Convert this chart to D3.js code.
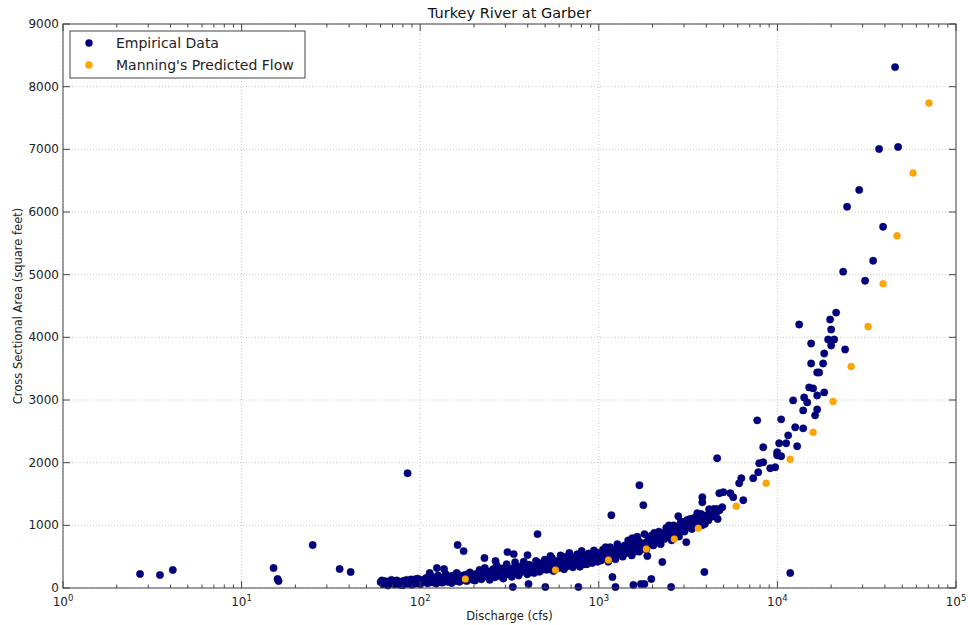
<!DOCTYPE html>
<html><head><meta charset="utf-8">
<script src="https://cdn.jsdelivr.net/npm/d3@7"></script>
<style>body{margin:0;background:#fff}svg{display:block}text{font-family:"DejaVu Sans",sans-serif}</style>
</head><body><svg id="c" width="968" height="625"></svg>
<script>
const title = "Turkey River at Garber";
const xLabel = "Discharge (cfs)";
const yLabel = "Cross Sectional Area (square feet)";
const seriesNames = ["Empirical Data", "Manning's Predicted Flow"];
const xTickExps = [0,1,2,3,4,5];
const yTicks = [0,1000,2000,3000,4000,5000,6000,7000,8000,9000];

// Empirical data [discharge, area]
const empiricalBand = [
[60,95],[62,60],[64,110],[66,40],[68,75],[70,90],[72,55],[74,120],[76,70],[78,100],[80,45],[82,85],[84,130],[86,65],[88,105],[90,50],[92,95],[94,140],[96,75],[98,115],
[100,60],[102,130],[105,95],[108,160],[110,75],[112,120],[115,180],[118,90],[120,140],[123,70],[126,200],[128,110],[130,160],[133,85],[136,130],[139,220],[142,100],[145,170],[148,135],[150,80],[153,195],[156,120],[160,240],[163,150],[166,100],[170,180],[174,130],[178,210],[182,110],[186,170],[190,250],[194,140],[198,200],
[203,120],[207,230],[211,170],[215,290],[220,140],[225,210],[230,320],[235,180],[240,260],[245,130],[250,220],[256,300],[262,170],[268,360],[274,240],[280,190],[286,310],[292,150],[298,270],[305,380],[312,220],[319,300],[326,180],[333,250],[340,410],[348,280],[356,200],[364,340],[372,260],[380,420],[389,300],[398,220],[407,370],[416,280],[425,340],[435,240],[445,430],[455,310],[465,260],[476,380],[487,330],[498,450],
[510,290],[522,400],[534,340],[546,480],[558,270],[571,370],[584,430],[597,320],[611,520],[625,390],[639,300],[654,460],[669,350],[684,560],[700,420],[716,330],[732,500],[749,380],[766,460],[784,340],[802,590],[820,430],[839,500],[858,380],[878,550],[898,450],[919,400],[940,600],[962,480],[984,420],
[1005,520],[1030,440],[1055,610],[1080,480],[1105,560],[1130,420],[1157,650],[1184,500],[1212,580],[1240,460],[1270,700],[1300,540],[1330,620],[1362,500],[1394,680],[1427,560],[1461,760],[1495,600],[1530,520],[1566,700],[1603,640],[1641,820],[1680,580],[1720,720],[1760,660],[1802,860],[1845,620],[1888,760],[1933,700],[1978,840],
[2020,680],[2070,820],[2120,740],[2170,900],[2220,700],[2275,860],[2330,780],[2385,960],[2440,820],[2500,900],[2560,760],[2620,1000],[2685,880],[2750,940],[2815,820],[2880,1060],[2950,960],[3020,900],[3095,1040],[3170,980],[3245,1100],[3320,940],[3400,1060],[3480,1000],[3565,1140],[3650,1040],[3740,1180],[3830,1100],[3920,1020],[4010,1160],[4110,1080],[4210,1220],[4310,1140],[4410,1260],[4520,1180],[4630,1100],[4740,1240],
[61,120],[65,85],[69,130],[73,95],[77,50],[81,115],[85,90],[89,135],[93,70],[97,150],
[101,100],[107,140],[113,90],[119,170],[125,120],[131,100],[137,170],[143,140],[149,190],[155,160],[161,110],[167,200],[173,150],[179,170],[185,220],[191,180],[197,130],
[205,180],[213,220],[222,260],[232,220],[242,200],[252,270],[259,230],[271,280],[283,250],[295,220],[308,310],[322,260],[337,330],[352,240],[368,300],[385,350],[402,300],[420,250],[440,330],[460,400],[481,290],[503,360],
[528,300],[552,420],[578,350],[604,400],[632,460],[660,380],[692,480],[724,410],[758,540],[793,470],[830,380],[868,480],[908,540],[950,460],[995,560],
[1042,500],[1092,650],[1143,540],[1198,480],[1255,620],[1315,580],[1378,550],[1444,640],[1512,680],[1584,580],[1660,760],[1740,620],[1823,720],[1910,800],[1999,760],
[2045,880],[2145,800],[2250,880],[2357,860],[2470,1000],[2590,880],[2718,980],[2850,900],[2985,1000],[3130,1080],[3280,1000],[3440,1120],[3610,1080],[3785,1000],[3970,1120],[4160,1160],[4360,1200],[4570,1260]
];
const empiricalHigh = [
[3130,1083],[3560,1194],[4490,1194],[4150,1258],[4910,1290],[3800,1369],[3800,1449],[6440,1401],[5660,1449],[4730,1513],[5450,1513],[4980,1529],[6110,1672],[6280,1752],[7320,1752],[7810,1847],[9120,1911],[9720,1927],[7910,1990],[8330,2006],[4600,2070],[10500,2102],[9970,2118],[9970,2166],[12900,2261],[8330,2245],[10230,2309],[11200,2309],[11490,2436],[13940,2548],[12580,2564],[7710,2675],[10500,2691],[16260,2755],[13940,2834],[16700,2850],[14690,2962],[12250,2994],[14120,3041],[16700,3073],[18280,3121],[15850,3185],[15060,3201],[16700,3440],[17130,3440],[15450,3583],[18030,3583],[18280,3742],[23940,3806],[20000,3870],[15450,3901],[19230,3965],[20790,3965],[20000,4124],[13240,4204],[19730,4284],[21320,4395],[30970,4904],[23350,5048],[34360,5223],[39060,5764],[24560,6083],[28700,6353],[37100,7006],[47400,7038],[45600,8312]
];
const empiricalOutliers = [
[2.70,223],[3.49,207],[4.12,287],[15.1,318],[15.9,143],[16.1,111],[25.0,685],[35.4,303],[40.8,255],[85.0,1831],[162,685],[175,589],[124,318],[136,303],[113,239],
[229,478],[264,430],[308,573],[334,541],[454,860],[399,525],[536,510],[650,494],[1176,1162],[1776,1322],[1688,1640],[1541,796],[1870,510],[2268,414],[3090,732],[2787,1146],[3900,255],[11800,239],[1192,175],
[330,16],[404,64],[502,16],[769,16],[1240,16],[1562,48],[1720,64],[1800,64],[1968,143],[2540,16]
];
const empirical = empiricalBand.concat(empiricalHigh, empiricalOutliers);

// Manning's predicted flow [discharge, area]
const manningQ = [179,572,1132,1846,2648,3606,5886,8655,11800,15850,20500,25870,32200,39060,46770,57500,70600];
const manningA = [143,287,446,621,780,955,1306,1672,2054,2484,2978,3535,4172,4857,5621,6624,7739];

const svg = d3.select("#c");
const L=63, R=956, T=24, B=588;
const x = d3.scaleLog().domain([1,1e5]).range([L,R]);
const y = d3.scaleLinear().domain([0,9000]).range([B,T]);
const axisColor = "#444";

// grid
const g = svg.append("g");
xTickExps.forEach(e=>{
  const px = x(Math.pow(10,e));
  g.append("line").attr("x1",px).attr("x2",px).attr("y1",T).attr("y2",B).attr("stroke","#c8c8c8").attr("stroke-dasharray","1,2");
});
yTicks.forEach(v=>{
  g.append("line").attr("x1",L).attr("x2",R).attr("y1",y(v)).attr("y2",y(v)).attr("stroke","#c8c8c8").attr("stroke-dasharray","1,2");
});

// points
svg.append("g").selectAll("circle").data(empirical).join("circle")
  .attr("cx",d=>x(d[0])).attr("cy",d=>y(d[1])).attr("r",3.7)
  .attr("fill","#000080").attr("stroke","#00005a").attr("stroke-width",0.4);
svg.append("g").selectAll("circle").data(manningQ.map((q,i)=>[q,manningA[i]])).join("circle")
  .attr("cx",d=>x(d[0])).attr("cy",d=>y(d[1])).attr("r",3.5)
  .attr("fill","#FFA500").attr("stroke","#e08a00").attr("stroke-width",0.3);

// frame
svg.append("rect").attr("x",L).attr("y",T).attr("width",R-L).attr("height",B-T).attr("fill","none").attr("stroke",axisColor).attr("stroke-width",1);

// x ticks
const ax = svg.append("g");
xTickExps.forEach(e=>{
  const px = x(Math.pow(10,e));
  ax.append("line").attr("x1",px).attr("x2",px).attr("y1",B).attr("y2",B-7).attr("stroke",axisColor);
  ax.append("line").attr("x1",px).attr("x2",px).attr("y1",T).attr("y2",T+7).attr("stroke",axisColor);
  const t = ax.append("text").attr("x",px).attr("y",B+18).attr("text-anchor","middle").attr("font-size",12).attr("fill","#222");
  t.append("tspan").text("10");
  t.append("tspan").attr("dy",-5).attr("font-size",8.5).text(e);
  if(e<5){
    for(let m=2;m<=9;m++){
      const mp = x(m*Math.pow(10,e));
      ax.append("line").attr("x1",mp).attr("x2",mp).attr("y1",B).attr("y2",B-3.5).attr("stroke",axisColor);
      ax.append("line").attr("x1",mp).attr("x2",mp).attr("y1",T).attr("y2",T+3.5).attr("stroke",axisColor);
    }
  }
});
// y ticks
yTicks.forEach(v=>{
  const py = y(v);
  ax.append("line").attr("x1",L).attr("x2",L+7).attr("y1",py).attr("y2",py).attr("stroke",axisColor);
  ax.append("line").attr("x1",R).attr("x2",R-7).attr("y1",py).attr("y2",py).attr("stroke",axisColor);
  ax.append("text").attr("x",L-4).attr("y",py+4).attr("text-anchor","end").attr("font-size",12).attr("fill","#222").text(v);
});

// labels
svg.append("text").attr("x",(L+R)/2).attr("y",18).attr("text-anchor","middle").attr("font-size",14.5).attr("fill","#111").text(title);
svg.append("text").attr("x",(L+R)/2).attr("y",620).attr("text-anchor","middle").attr("font-size",11.5).attr("fill","#222").text(xLabel);
svg.append("text").attr("transform",`translate(22,${(T+B)/2}) rotate(-90)`).attr("text-anchor","middle").attr("font-size",11.5).attr("fill","#222").text(yLabel);

// legend
const lg = svg.append("g");
lg.append("rect").attr("x",70).attr("y",31).attr("width",235).attr("height",47).attr("fill","#fff").attr("stroke","#444").attr("stroke-width",1);
const colors = ["#000080","#FFA500"];
seriesNames.forEach((n,i)=>{
  const cy = 43+i*22;
  lg.append("circle").attr("cx",89).attr("cy",cy).attr("r",3.7).attr("fill",colors[i]);
  lg.append("text").attr("x",116).attr("y",cy+5).attr("font-size",14).attr("fill","#222").text(n);
});
</script></body></html>
